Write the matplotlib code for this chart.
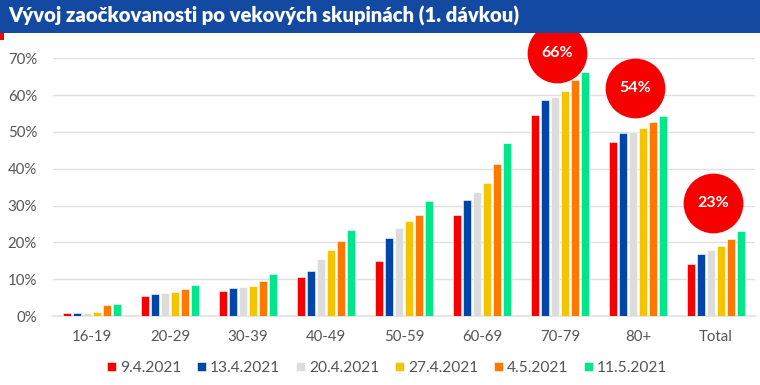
import matplotlib
matplotlib.use("Agg")
import matplotlib.pyplot as plt
from matplotlib.patches import Rectangle
import numpy as np

plt.rcParams['font.family'] = ['Lato', 'DejaVu Sans']

categories = ["16-19", "20-29", "30-39", "40-49", "50-59", "60-69", "70-79", "80+", "Total"]
dates = ["9.4.2021", "13.4.2021", "20.4.2021", "27.4.2021", "4.5.2021", "11.5.2021"]
v_0904 = [0.7, 5.5, 6.9, 10.5, 15.0, 27.5, 54.6, 47.2, 14.2]
v_1304 = [0.8, 6.1, 7.6, 12.2, 21.1, 31.4, 58.7, 49.8, 16.8]
v_2004 = [0.8, 6.25, 7.9, 15.6, 23.9, 33.8, 59.5, 50.0, 17.8]
v_2704 = [1.0, 6.5, 8.2, 17.9, 25.9, 36.2, 61.0, 51.1, 19.0]
v_0405 = [2.9, 7.3, 9.6, 20.4, 27.5, 41.4, 64.0, 52.7, 20.9]
v_1105 = [3.3, 8.4, 11.3, 23.4, 31.2, 47.0, 66.2, 54.3, 23.1]
series = [v_0904, v_1304, v_2004, v_2704, v_0405, v_1105]
colors = ["#f70000", "#0046a8", "#dcdcdc", "#f5c400", "#ff7800", "#00e68a"]
yticks = [0, 10, 20, 30, 40, 50, 60, 70]
callout_cats = ["70-79", "80+", "Total"]
callout_labels = ["66%", "54%", "23%"]
callout_y = [71.5, 61.9, 30.8]

W, H = 760, 385
fig = plt.figure(figsize=(W / 100, H / 100), dpi=100)
ax = fig.add_axes([53 / W, (H - 316) / H, 702 / W, (316 - 58.3) / H])

# title band
fig.patches.append(Rectangle((0, (H - 33) / H), 1, 33 / H, transform=fig.transFigure,
                             facecolor="#1349a0", edgecolor="none", zorder=0))
fig.patches.append(Rectangle((0, (H - 40) / H), 4 / W, 7 / H, transform=fig.transFigure,
                             facecolor="#f70000", edgecolor="none", zorder=0))
fig.text(8 / W, (H - 16) / H, "Vývoj zaočkovanosti po vekových skupinách (1. dávkou)",
         color="white", fontsize=14.6, fontweight="heavy", va="center", ha="left")

x = np.arange(len(categories))
slot = 0.128
bw = 0.108
n = len(series)
for i, (vals, c, d) in enumerate(zip(series, colors, dates)):
    ax.bar(x + (i - (n - 1) / 2) * slot, vals, width=bw, color=c, label=d,
           edgecolor="white", linewidth=0.4, zorder=3)

for cat, lab, yy in zip(callout_cats, callout_labels, callout_y):
    xi = categories.index(cat)
    ax.scatter([xi - 0.04], [yy], s=1850, color="#f70000", zorder=5, clip_on=False, linewidths=0)
    ax.text(xi - 0.04, yy, lab, color="white", fontsize=11.5, fontweight="bold",
            ha="center", va="center", zorder=6, clip_on=False)

ax.set_xlim(-0.5, len(categories) - 0.5)
ax.set_ylim(0, 70)
ax.set_yticks(yticks)
ax.set_yticklabels([f"{t}%" for t in yticks])
ax.set_xticks(x)
ax.set_xticklabels(categories)
ax.grid(axis="y", color="#e0e0e0", linewidth=1, zorder=0)
ax.set_axisbelow(True)
for s in ["top", "right", "left"]:
    ax.spines[s].set_visible(False)
ax.spines["bottom"].set_color("#e6e6e6")
ax.spines["bottom"].set_linewidth(1.5)
ax.tick_params(axis="both", length=0, labelsize=10.8, colors="#555555")
ax.tick_params(axis="y", pad=11.5)
ax.tick_params(axis="x", pad=10)

leg = fig.legend(loc="center", bbox_to_anchor=(387 / W, (H - 368) / H), ncol=6, frameon=False,
                 fontsize=11.2, handlelength=0.6, handleheight=0.6, handletextpad=0.25,
                 columnspacing=1.0)
for t in leg.get_texts():
    t.set_color("#555555")

fig.savefig("out.png", dpi=100)
